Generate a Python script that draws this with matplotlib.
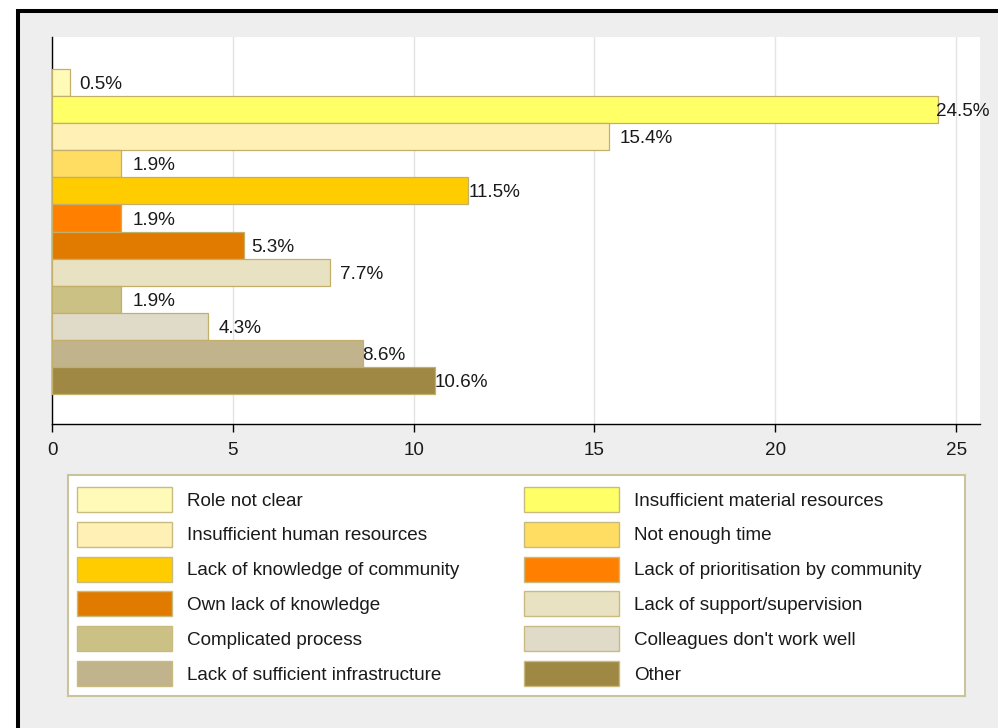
import numpy as np
import matplotlib
matplotlib.use("Agg")
import matplotlib.pyplot as plt
from matplotlib.patches import Rectangle

plt.rcParams['font.family'] = ['Liberation Sans', 'DejaVu Sans']

# reasons, top bar first
reasons = ["Role not clear", "Insufficient material resources",
           "Insufficient human resources", "Not enough time",
           "Lack of knowledge of community", "Lack of prioritisation by community",
           "Own lack of knowledge", "Lack of support/supervision",
           "Complicated process", "Colleagues don't work well",
           "Lack of sufficient infrastructure", "Other"]
percent = [0.5, 24.5, 15.4, 1.9, 11.5, 1.9, 5.3, 7.7, 1.9, 4.3, 8.6, 10.6]
colors = ["#fffab8", "#ffff66", "#fff1b6", "#ffdc62", "#ffcc00", "#ff8000",
          "#e07b00", "#e8e2c2", "#cbc185", "#e0dbc9", "#c1b48d", "#9f8844"]
xticks = [0, 5, 10, 15, 20, 25]

# label nudges in pixels (stata puts some of them right on the bar end)
label_pad = [9, -2, 11, 12, 1, 12, 8, 10, 12, 11, -1, -1]

FS = 13.6
W, H = 998, 728
fig = plt.figure(figsize=(W / 100, H / 100), dpi=100, facecolor="white")

# grey panel with the thick black border on top/left
panel = Rectangle((17.5 / W, -20 / H), 1.1, (H - 11 + 20) / H,
                  transform=fig.transFigure, facecolor="#eeeeee",
                  edgecolor="black", linewidth=2.9, zorder=-10)
fig.patches.append(panel)

ax = fig.add_axes([52 / W, 1 - 424 / H, (980 - 52) / W, (424 - 37) / H])
ax.set_facecolor("white")

y = np.arange(len(percent))
ax.barh(y, percent, height=1.0, color=colors, edgecolor="#c2b06a",
        linewidth=0.9, zorder=3)
for yi, v, p in zip(y, percent, label_pad):
    ax.annotate(f"{v}%", (v, yi), xytext=(p, -2), textcoords="offset pixels",
                ha="left", va="center", fontsize=FS, color="#1a1a1a",
                zorder=4, annotation_clip=False)

ax.set_xlim(0, 25.66)
ax.set_ylim(12.6, -1.68)
ax.set_yticks([])
ax.set_xticks(xticks)
ax.tick_params(axis="x", length=6, width=1, color="black", pad=7,
               labelsize=FS, labelcolor="#1a1a1a")
ax.grid(axis="x", color="#e4e4e4", linewidth=1, zorder=0)
for s in ["top", "right"]:
    ax.spines[s].set_visible(False)
for s in ["left", "bottom"]:
    ax.spines[s].set_color("black")
    ax.spines[s].set_linewidth(1)

# legend box drawn by hand, two columns, filled row by row
lx0, ly0, lx1, ly1 = 68, 475, 965, 696
lax = fig.add_axes([lx0 / W, 1 - ly1 / H, (lx1 - lx0) / W, (ly1 - ly0) / H])
lax.set_xlim(0, lx1 - lx0)
lax.set_ylim(ly1 - ly0, 0)
lax.set_xticks([])
lax.set_yticks([])
lax.set_facecolor("white")
for s in lax.spines.values():
    s.set_color("#cbc39c")
    s.set_linewidth(1.5)

col_x = [9, 456]
for i, (name, c) in enumerate(zip(reasons, colors)):
    row, col = divmod(i, 2)
    top = 12 + row * 34.8
    lax.add_patch(Rectangle((col_x[col], top), 95, 25, facecolor=c,
                            edgecolor="#c9bb80", linewidth=1))
    lax.text(col_x[col] + 110, top + 14, name, ha="left", va="center",
             fontsize=FS, color="#1a1a1a")

fig.savefig("out.png", dpi=100, facecolor=fig.get_facecolor())
